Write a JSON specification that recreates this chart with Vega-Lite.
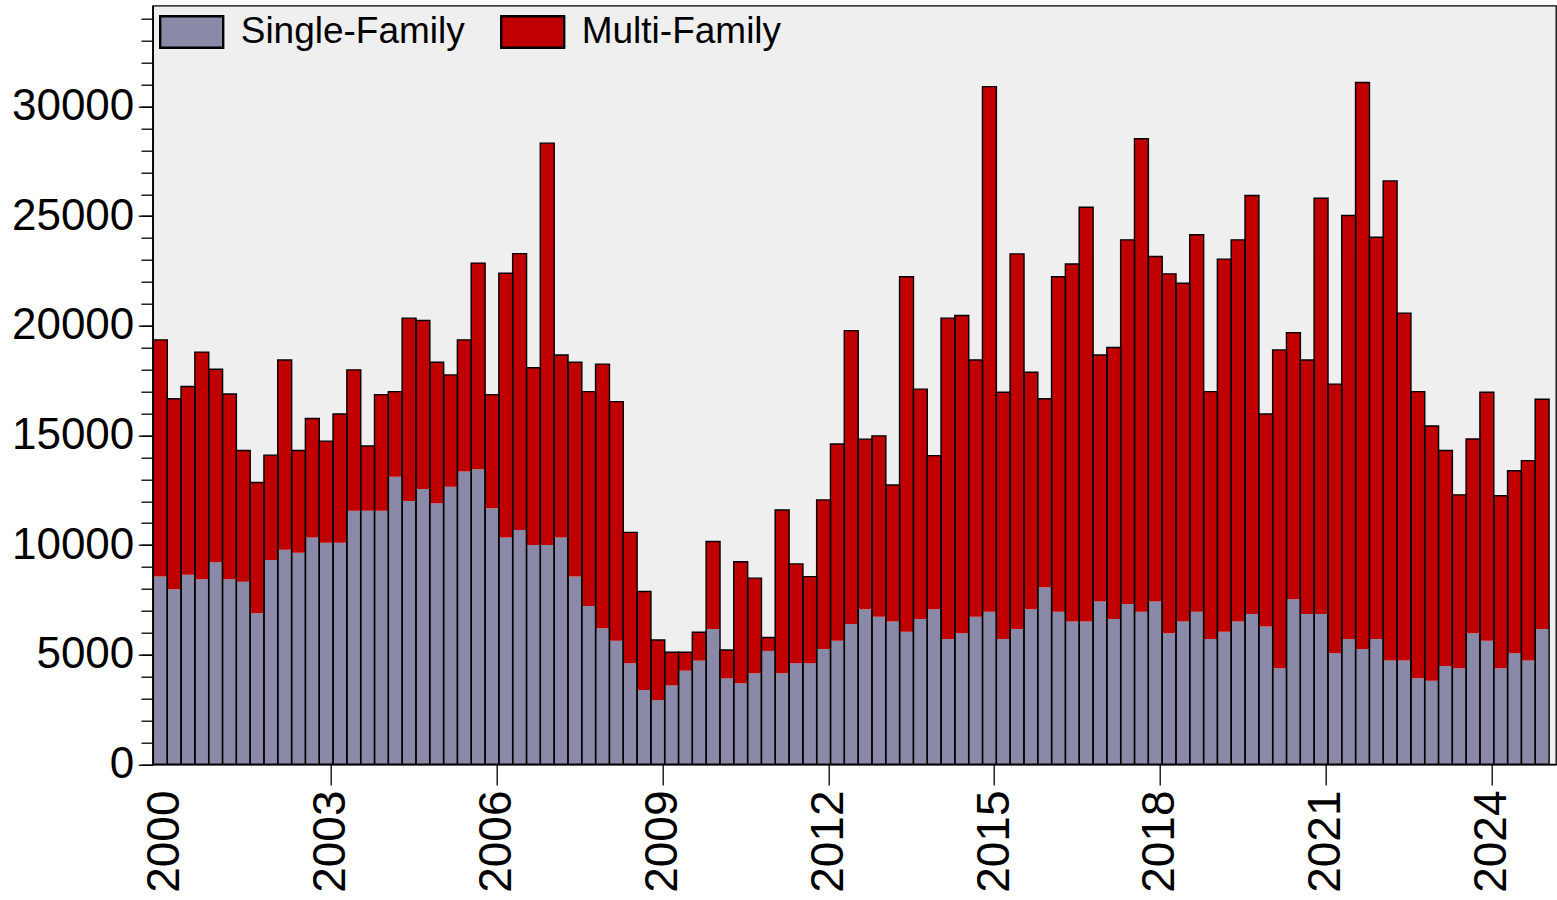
{
  "$schema": "https://vega.github.io/schema/vega-lite/v6.json",
  "autosize": "none",
  "width": 1403.3,
  "height": 758.6,
  "padding": {"left": 152.7, "top": 5.7, "right": 1, "bottom": 135.7},
  "background": "white",
  "config": {
    "view": {"fill": "#EFEFEF", "stroke": "#000", "strokeWidth": 1.3},
    "axis": {"labelFont": "Liberation Sans", "labelColor": "#000", "tickColor": "#000", "domainColor": "#000", "tickWidth": 1.3, "domainWidth": 1.3, "grid": false, "title": null}
  },
  "data": {"values": [
    {"t": 2000.00, "Single-Family": 8560, "Multi-Family": 10800},
    {"t": 2000.25, "Single-Family": 7980, "Multi-Family": 8690},
    {"t": 2000.50, "Single-Family": 8640, "Multi-Family": 8590},
    {"t": 2000.75, "Single-Family": 8440, "Multi-Family": 10360},
    {"t": 2001.00, "Single-Family": 9220, "Multi-Family": 8800},
    {"t": 2001.25, "Single-Family": 8440, "Multi-Family": 8450},
    {"t": 2001.50, "Single-Family": 8330, "Multi-Family": 5980},
    {"t": 2001.75, "Single-Family": 6890, "Multi-Family": 5960},
    {"t": 2002.00, "Single-Family": 9320, "Multi-Family": 4780},
    {"t": 2002.25, "Single-Family": 9780, "Multi-Family": 8660},
    {"t": 2002.50, "Single-Family": 9650, "Multi-Family": 4660},
    {"t": 2002.75, "Single-Family": 10340, "Multi-Family": 5430},
    {"t": 2003.00, "Single-Family": 10110, "Multi-Family": 4630},
    {"t": 2003.25, "Single-Family": 10110, "Multi-Family": 5870},
    {"t": 2003.50, "Single-Family": 11570, "Multi-Family": 6420},
    {"t": 2003.75, "Single-Family": 11570, "Multi-Family": 2950},
    {"t": 2004.00, "Single-Family": 11570, "Multi-Family": 5290},
    {"t": 2004.25, "Single-Family": 13120, "Multi-Family": 3880},
    {"t": 2004.50, "Single-Family": 12010, "Multi-Family": 8340},
    {"t": 2004.75, "Single-Family": 12560, "Multi-Family": 7680},
    {"t": 2005.00, "Single-Family": 11910, "Multi-Family": 6430},
    {"t": 2005.25, "Single-Family": 12660, "Multi-Family": 5100},
    {"t": 2005.50, "Single-Family": 13350, "Multi-Family": 6010},
    {"t": 2005.75, "Single-Family": 13460, "Multi-Family": 9400},
    {"t": 2006.00, "Single-Family": 11680, "Multi-Family": 5180},
    {"t": 2006.25, "Single-Family": 10340, "Multi-Family": 12060},
    {"t": 2006.50, "Single-Family": 10690, "Multi-Family": 12600},
    {"t": 2006.75, "Single-Family": 10000, "Multi-Family": 8090},
    {"t": 2007.00, "Single-Family": 10000, "Multi-Family": 18330},
    {"t": 2007.25, "Single-Family": 10340, "Multi-Family": 8330},
    {"t": 2007.50, "Single-Family": 8560, "Multi-Family": 9780},
    {"t": 2007.75, "Single-Family": 7220, "Multi-Family": 9780},
    {"t": 2008.00, "Single-Family": 6200, "Multi-Family": 12050},
    {"t": 2008.25, "Single-Family": 5640, "Multi-Family": 10900},
    {"t": 2008.50, "Single-Family": 4610, "Multi-Family": 5970},
    {"t": 2008.75, "Single-Family": 3390, "Multi-Family": 4490},
    {"t": 2009.00, "Single-Family": 2930, "Multi-Family": 2740},
    {"t": 2009.25, "Single-Family": 3590, "Multi-Family": 1520},
    {"t": 2009.50, "Single-Family": 4270, "Multi-Family": 840},
    {"t": 2009.75, "Single-Family": 4730, "Multi-Family": 1290},
    {"t": 2010.00, "Single-Family": 6170, "Multi-Family": 3990},
    {"t": 2010.25, "Single-Family": 3920, "Multi-Family": 1290},
    {"t": 2010.50, "Single-Family": 3700, "Multi-Family": 5540},
    {"t": 2010.75, "Single-Family": 4150, "Multi-Family": 4340},
    {"t": 2011.00, "Single-Family": 5170, "Multi-Family": 610},
    {"t": 2011.25, "Single-Family": 4150, "Multi-Family": 7450},
    {"t": 2011.50, "Single-Family": 4610, "Multi-Family": 4530},
    {"t": 2011.75, "Single-Family": 4610, "Multi-Family": 3950},
    {"t": 2012.00, "Single-Family": 5260, "Multi-Family": 6800},
    {"t": 2012.25, "Single-Family": 5630, "Multi-Family": 8980},
    {"t": 2012.50, "Single-Family": 6400, "Multi-Family": 13380},
    {"t": 2012.75, "Single-Family": 7070, "Multi-Family": 7760},
    {"t": 2013.00, "Single-Family": 6730, "Multi-Family": 8250},
    {"t": 2013.25, "Single-Family": 6510, "Multi-Family": 6230},
    {"t": 2013.50, "Single-Family": 6050, "Multi-Family": 16190},
    {"t": 2013.75, "Single-Family": 6630, "Multi-Family": 10480},
    {"t": 2014.00, "Single-Family": 7070, "Multi-Family": 7010},
    {"t": 2014.25, "Single-Family": 5720, "Multi-Family": 14630},
    {"t": 2014.50, "Single-Family": 5980, "Multi-Family": 14490},
    {"t": 2014.75, "Single-Family": 6730, "Multi-Family": 11710},
    {"t": 2015.00, "Single-Family": 6960, "Multi-Family": 23950},
    {"t": 2015.25, "Single-Family": 5720, "Multi-Family": 11250},
    {"t": 2015.50, "Single-Family": 6170, "Multi-Family": 17110},
    {"t": 2015.75, "Single-Family": 7070, "Multi-Family": 10810},
    {"t": 2016.00, "Single-Family": 8080, "Multi-Family": 8590},
    {"t": 2016.25, "Single-Family": 6960, "Multi-Family": 15280},
    {"t": 2016.50, "Single-Family": 6510, "Multi-Family": 16310},
    {"t": 2016.75, "Single-Family": 6510, "Multi-Family": 18900},
    {"t": 2017.00, "Single-Family": 7420, "Multi-Family": 11250},
    {"t": 2017.25, "Single-Family": 6630, "Multi-Family": 12380},
    {"t": 2017.50, "Single-Family": 7310, "Multi-Family": 16610},
    {"t": 2017.75, "Single-Family": 6960, "Multi-Family": 21570},
    {"t": 2018.00, "Single-Family": 7420, "Multi-Family": 15740},
    {"t": 2018.25, "Single-Family": 5980, "Multi-Family": 16390},
    {"t": 2018.50, "Single-Family": 6510, "Multi-Family": 15430},
    {"t": 2018.75, "Single-Family": 6960, "Multi-Family": 17190},
    {"t": 2019.00, "Single-Family": 5720, "Multi-Family": 11280},
    {"t": 2019.25, "Single-Family": 6050, "Multi-Family": 16990},
    {"t": 2019.50, "Single-Family": 6510, "Multi-Family": 17410},
    {"t": 2019.75, "Single-Family": 6860, "Multi-Family": 19080},
    {"t": 2020.00, "Single-Family": 6280, "Multi-Family": 9700},
    {"t": 2020.25, "Single-Family": 4380, "Multi-Family": 14520},
    {"t": 2020.50, "Single-Family": 7530, "Multi-Family": 12160},
    {"t": 2020.75, "Single-Family": 6860, "Multi-Family": 11580},
    {"t": 2021.00, "Single-Family": 6860, "Multi-Family": 18960},
    {"t": 2021.25, "Single-Family": 5060, "Multi-Family": 12280},
    {"t": 2021.50, "Single-Family": 5720, "Multi-Family": 19310},
    {"t": 2021.75, "Single-Family": 5260, "Multi-Family": 25840},
    {"t": 2022.00, "Single-Family": 5720, "Multi-Family": 18320},
    {"t": 2022.25, "Single-Family": 4730, "Multi-Family": 21880},
    {"t": 2022.50, "Single-Family": 4730, "Multi-Family": 15850},
    {"t": 2022.75, "Single-Family": 3920, "Multi-Family": 13080},
    {"t": 2023.00, "Single-Family": 3810, "Multi-Family": 11620},
    {"t": 2023.25, "Single-Family": 4480, "Multi-Family": 9830},
    {"t": 2023.50, "Single-Family": 4380, "Multi-Family": 7910},
    {"t": 2023.75, "Single-Family": 5980, "Multi-Family": 8860},
    {"t": 2024.00, "Single-Family": 5630, "Multi-Family": 11340},
    {"t": 2024.25, "Single-Family": 4380, "Multi-Family": 7870},
    {"t": 2024.50, "Single-Family": 5060, "Multi-Family": 8330},
    {"t": 2024.75, "Single-Family": 4730, "Multi-Family": 9120},
    {"t": 2025.00, "Single-Family": 6170, "Multi-Family": 10480}
  ]},
  "transform": [{"fold": ["Single-Family", "Multi-Family"], "as": ["series", "value"]}],
  "encoding": {
    "x": {
      "field": "t", "type": "quantitative",
      "scale": {"domain": [1999.869, 2025.077], "nice": false, "zero": false},
      "axis": {
        "orient": "bottom",
        "values": [2000, 2003, 2006, 2009, 2012, 2015, 2018, 2021, 2024],
        "format": "d", "labelAngle": 270, "labelAlign": "right", "labelBaseline": "middle",
        "labelFontSize": 46, "labelPadding": 5, "tickSize": 20.7,
        "tickColor": {"condition": {"test": "datum.value === 2000", "value": "transparent"}, "value": "#000"},
        "labelFlush": false, "labelOverlap": false
      }
    }
  },
  "layer": [
    {
      "mark": {"type": "bar", "width": 13.93, "xOffset": -4.6, "clip": true, "strokeWidth": 0},
      "encoding": {
        "y": {
          "field": "value", "type": "quantitative", "stack": "zero",
          "scale": {"domain": [0, 34600], "nice": false},
          "axis": {
            "orient": "left",
            "values": [0, 1000, 2000, 3000, 4000, 5000, 6000, 7000, 8000, 9000, 10000, 11000, 12000, 13000, 14000, 15000, 16000, 17000, 18000, 19000, 20000, 21000, 22000, 23000, 24000, 25000, 26000, 27000, 28000, 29000, 30000, 31000, 32000, 33000, 34000],
            "labels": false, "tickSize": 11.7
          }
        },
        "color": {
          "field": "series", "type": "nominal",
          "scale": {"domain": ["Single-Family", "Multi-Family"], "range": ["#8B89A8", "#C00000"]},
          "legend": {
            "orient": "none", "legendX": 6, "legendY": -7, "direction": "horizontal", "title": null,
            "symbolType": "M-1,-0.5H1V0.5H-1Z", "symbolSize": 3969,
            "symbolStrokeColor": "#000", "symbolStrokeWidth": 2.4, "symbolOpacity": 1,
            "labelFont": "Liberation Sans", "labelFontSize": 37, "labelColor": "#000",
            "labelOffset": 16, "columnPadding": 30, "padding": 0, "labelLimit": 0
          }
        },
        "order": {"field": "series", "sort": "descending"}
      }
    },
    {
      "mark": {"type": "bar", "width": 13.93, "xOffset": -4.6, "clip": true, "fillOpacity": 0, "stroke": "#000", "strokeWidth": 1.4},
      "encoding": {
        "y": {
          "aggregate": "sum", "field": "value", "type": "quantitative",
          "scale": {"domain": [0, 34600], "nice": false},
          "axis": {
            "orient": "left",
            "values": [0, 5000, 10000, 15000, 20000, 25000, 30000],
            "format": "d", "labelFontSize": 44, "tickSize": 14.4, "labelPadding": 4.5
          }
        }
      }
    }
  ],
  "resolve": {"axis": {"y": "independent"}}
}
